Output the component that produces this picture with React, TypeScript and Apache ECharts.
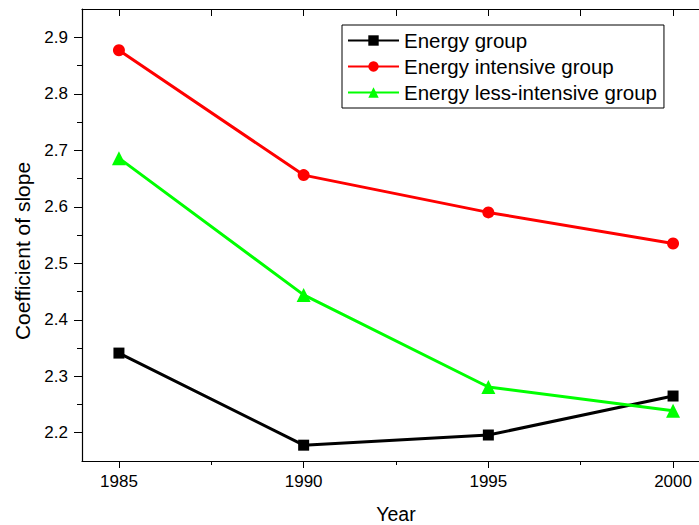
import React, { useEffect, useRef } from "react";
import * as echarts from "echarts";

const years = [1985, 1990, 1995, 2000];
const energyGroup = [2.341, 2.178, 2.196, 2.265];
const energyIntensive = [2.877, 2.656, 2.59, 2.535];
const energyLessIntensive = [2.686, 2.444, 2.281, 2.239];
const xMajorTicks = [1985, 1990, 1995, 2000];
const xMinorTicks = [1987.5, 1992.5, 1997.5];
const yMajorTicks = [2.2, 2.3, 2.4, 2.5, 2.6, 2.7, 2.8, 2.9];
const yMinorTicks = [2.25, 2.35, 2.45, 2.55, 2.65, 2.75, 2.85];
const yAxisTitle = "Coefficient of slope";
const xAxisTitle = "Year";

const FONT = "Liberation Sans, Arial, sans-serif";

export default function App() {
  const ref = useRef<HTMLDivElement>(null);
  useEffect(() => {
    if (!ref.current) return;
    const chart = echarts.init(ref.current, null, { renderer: "svg" });
    const pair = (vals: number[]) => years.map((y, i) => [y, vals[i]]);
    const axisLine = { show: true, lineStyle: { color: "#000", width: 1.2 } };
    const baseX = {
      type: "value" as const,
      min: 1984,
      max: 2001,
      splitLine: { show: false },
    };
    const baseY = {
      type: "value" as const,
      min: 2.15,
      max: 2.95,
      splitLine: { show: false },
    };
    chart.setOption({
      animation: false,
      backgroundColor: "#fff",
      textStyle: { fontFamily: FONT },
      grid: {
        left: 82,
        width: 628,
        top: 9,
        height: 452,
        containLabel: false,
        outerBoundsMode: "none",
      },
      graphic: [
        {
          type: "text",
          x: 22,
          y: 251,
          rotation: Math.PI / 2,
          style: {
            text: yAxisTitle,
            fontSize: 21,
            fontFamily: FONT,
            fill: "#000",
            align: "center",
            verticalAlign: "middle",
          },
        },
      ],
      legend: {
        orient: "vertical",
        left: 342,
        top: 25,
        borderColor: "#000",
        borderWidth: 1,
        padding: [5, 7, 5, 5],
        itemWidth: 51,
        itemHeight: 13,
        itemGap: 5,
        textStyle: { fontSize: 20.5, lineHeight: 20, color: "#000", fontFamily: FONT },
        data: ["Energy group", "Energy intensive group", "Energy less-intensive group"],
      },
      xAxis: [
        {
          ...baseX,
          position: "bottom",
          name: xAxisTitle,
          nameLocation: "middle",
          nameGap: 43,
          nameTextStyle: { fontSize: 19.5, color: "#000", fontFamily: FONT },
          axisLine,
          axisTick: { show: true, inside: false, length: 7, customValues: xMajorTicks, lineStyle: { color: "#000" } },
          axisLabel: {
            show: true,
            customValues: xMajorTicks,
            fontSize: 17,
            color: "#000",
            margin: 12,
            fontFamily: FONT,
            formatter: (v: number) => String(v),
          },
        },
        {
          ...baseX,
          position: "bottom",
          axisLine: { show: false },
          axisTick: { show: true, inside: false, length: 4, customValues: xMinorTicks, lineStyle: { color: "#000" } },
          axisLabel: { show: false },
        },
        {
          ...baseX,
          position: "top",
          axisLine,
          axisTick: { show: true, inside: true, length: 7, customValues: [...xMajorTicks, ...xMinorTicks], lineStyle: { color: "#000" } },
          axisLabel: { show: false },
        },
      ],
      yAxis: [
        {
          ...baseY,
          position: "left",
          axisLine,
          axisTick: { show: true, inside: false, length: 8, customValues: yMajorTicks, lineStyle: { color: "#000" } },
          axisLabel: {
            show: true,
            customValues: yMajorTicks,
            fontSize: 17,
            color: "#000",
            margin: 14,
            fontFamily: FONT,
            formatter: (v: number) => v.toFixed(1),
          },
        },
        {
          ...baseY,
          position: "left",
          axisLine: { show: false },
          axisTick: { show: true, inside: false, length: 5, customValues: yMinorTicks, lineStyle: { color: "#000" } },
          axisLabel: { show: false },
        },
      ],
      series: [
        {
          name: "Energy group",
          type: "line",
          data: pair(energyGroup),
          symbol: "rect",
          symbolSize: 11,
          itemStyle: { color: "#000" },
          lineStyle: { color: "#000", width: 3 },
        },
        {
          name: "Energy intensive group",
          type: "line",
          data: pair(energyIntensive),
          symbol: "circle",
          symbolSize: 12,
          itemStyle: { color: "#ff0000" },
          lineStyle: { color: "#ff0000", width: 3 },
        },
        {
          name: "Energy less-intensive group",
          type: "line",
          data: pair(energyLessIntensive),
          symbol: "triangle",
          symbolSize: 14,
          itemStyle: { color: "#00ff00" },
          lineStyle: { color: "#00ff00", width: 3 },
        },
      ],
    });
    return () => chart.dispose();
  }, []);
  return <div ref={ref} style={{ width: 699, height: 525, position: "absolute", left: 0, top: 0 }} />;
}
